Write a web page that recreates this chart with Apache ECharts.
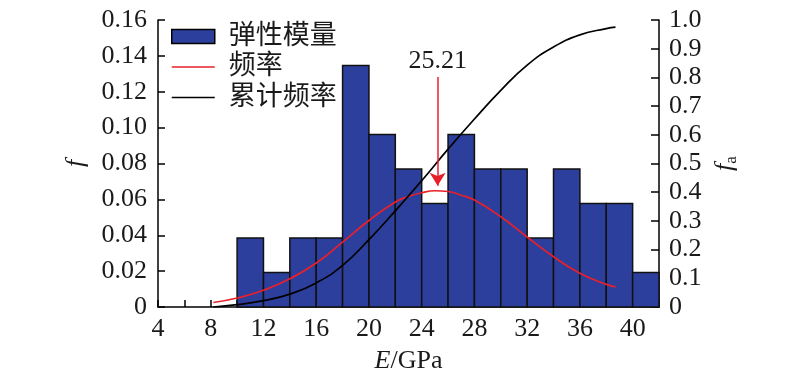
<!DOCTYPE html>
<html>
<head>
<meta charset="utf-8">
<script src="https://cdn.jsdelivr.net/npm/echarts@6/dist/echarts.min.js"></script>
<style>html,body{margin:0;padding:0;background:#fff}#c{width:800px;height:381px}</style>
</head>
<body>
<div id="c"></div>
<script>
// Histogram bins (start of each 2 GPa bin) and frequencies
const binStarts = [10, 12, 14, 16, 18, 20, 22, 24, 26, 28, 30, 32, 34, 36, 38, 40];
const binWidth = 2;
const freq = [0.0385, 0.0192, 0.0385, 0.0385, 0.1346, 0.0962, 0.0769, 0.0577, 0.0962, 0.0769, 0.0769, 0.0385, 0.0769, 0.0577, 0.0577, 0.0192];
// Fitted frequency curve
const redX = [8.2, 10, 12, 14, 16, 18, 20, 22, 23, 24, 25, 26, 27, 28, 30, 32, 34, 36, 38, 38.7];
const freqCurve = [0.0025, 0.0050, 0.0093, 0.0157, 0.0245, 0.0362, 0.0482, 0.0585, 0.0616, 0.0637, 0.0648, 0.0644, 0.0623, 0.0596, 0.0503, 0.0390, 0.0280, 0.0188, 0.0126, 0.0112];
// Cumulative frequency curve
const blackX = [8.2, 10, 12, 14, 16, 18, 20, 22, 24, 26, 28, 30, 32, 34, 36, 38, 38.7];
const cumCurve = [0.0, 0.008, 0.022, 0.045, 0.084, 0.145, 0.235, 0.335, 0.44, 0.55, 0.655, 0.755, 0.843, 0.906, 0.948, 0.970, 0.975];
// Annotation
const meanValue = 25.21;
const arrowFrom = 0.1282, arrowTo = 0.0676;
const seriesNames = ['弹性模量', '频率', '累计频率'];

const serif = "'Liberation Serif', 'Noto Sans CJK SC', serif";
const txt = '#1a1a1a';
const barColor = '#2d3f9d';
const lineIcon = 'path://M0,0 L0.01,0 L0,0.01 Z M0,6.2 L43,6.2 L43,7.8 L0,7.8 Z M43,14 L42.99,14 L43,13.99 Z';

const histData = binStarts.map((s, i) => [s, s + binWidth, freq[i]]);
const redData = redX.map((x, i) => [x, freqCurve[i]]);
const blackData = blackX.map((x, i) => [x, cumCurve[i]]);

const chart = echarts.init(document.getElementById('c'), null, {renderer: 'canvas'});
chart.setOption({
  animation: false,
  backgroundColor: '#fff',
  grid: {left: 158, right: 141, top: 20, bottom: 74, containLabel: false},
  legend: {
    orient: 'vertical', left: 171, top: 23, padding: 0, itemWidth: 43, itemHeight: 14, itemGap: 3.5,
    textStyle: {fontFamily: serif, fontSize: 27, color: txt, lineHeight: 26, padding: [0, 0, 0, 9]},
    data: [
      {name: seriesNames[0], icon: 'rect', itemStyle: {color: barColor, borderColor: '#000', borderWidth: 1.5}},
      {name: seriesNames[1], icon: lineIcon, itemStyle: {color: '#e8202a', borderWidth: 0}},
      {name: seriesNames[2], icon: lineIcon, itemStyle: {color: '#000', borderWidth: 0}}
    ]
  },
  xAxis: {
    type: 'value', min: 4, max: 42, interval: 2,
    name: '{i|E}{n|/GPa}', nameLocation: 'middle', nameGap: 41,
    nameTextStyle: {rich: {
      i: {fontFamily: serif, fontSize: 26, fontStyle: 'italic', color: txt},
      n: {fontFamily: serif, fontSize: 26, color: txt}}},
    axisLine: {lineStyle: {color: '#000', width: 1.5}},
    axisTick: {inside: true, length: 7, lineStyle: {color: '#000', width: 1.5}},
    axisLabel: {margin: 9, fontFamily: serif, fontSize: 26, color: txt,
      formatter: v => (v % 4 === 0 ? String(v) : '')},
    splitLine: {show: false}
  },
  yAxis: [
    {
      type: 'value', min: 0, max: 0.16, interval: 0.02, position: 'left',
      name: 'f', nameLocation: 'middle', nameGap: 69, nameRotate: 90,
      nameTextStyle: {fontFamily: serif, fontSize: 26, fontStyle: 'italic', color: txt},
      axisLine: {show: true, lineStyle: {color: '#000', width: 1.5}},
      axisTick: {show: true, inside: true, length: 7, lineStyle: {color: '#000', width: 1.5}},
      axisLabel: {margin: 11, fontFamily: serif, fontSize: 26, color: txt,
        formatter: v => (v === 0 ? '0' : v.toFixed(2))},
      splitLine: {show: false}
    },
    {
      type: 'value', min: 0, max: 1, interval: 0.1, position: 'right',
      name: '{i|f}{s|a}', nameLocation: 'middle', nameGap: 46, nameRotate: 90,
      nameTextStyle: {rich: {
        i: {fontFamily: serif, fontSize: 26, fontStyle: 'italic', color: txt},
        s: {fontFamily: serif, fontSize: 17, color: txt, padding: [12, 0, 0, 0]}
      }},
      axisLine: {show: true, lineStyle: {color: '#000', width: 1.5}},
      axisTick: {show: true, inside: true, length: 8, lineStyle: {color: '#000', width: 1.5}},
      axisLabel: {margin: 10, fontFamily: serif, fontSize: 26, color: txt,
        formatter: v => (v === 0 ? '0' : v.toFixed(1))},
      splitLine: {show: false}
    }
  ],
  series: [
    {
      name: seriesNames[0], type: 'custom', xAxisIndex: 0, yAxisIndex: 0,
      encode: {x: [0, 1], y: 2},
      itemStyle: {color: barColor, borderColor: '#000', borderWidth: 1.5},
      renderItem: (params, api) => {
        const p0 = api.coord([api.value(0), api.value(2)]);
        const p1 = api.coord([api.value(1), 0]);
        return {type: 'rect', shape: {x: p0[0], y: p0[1], width: p1[0] - p0[0], height: p1[1] - p0[1]},
          style: {fill: barColor, stroke: '#111', lineWidth: 1.5}};
      },
      data: histData, z: 1
    },
    {
      name: seriesNames[1], type: 'line', xAxisIndex: 0, yAxisIndex: 0,
      data: redData, smooth: 0.5, symbol: 'none', showSymbol: false,
      lineStyle: {color: '#e8202a', width: 1.7}, itemStyle: {color: '#e8202a'}, z: 3,
      markLine: {
        silent: true, symbol: ['none', 'arrow'], symbolSize: [12, 13], precision: 2,
        lineStyle: {color: '#e8202a', width: 1.5, type: 'solid'},
        label: {show: true, position: 'start', distance: 3, formatter: String(meanValue),
          fontFamily: serif, fontSize: 26, color: txt},
        data: [[{coord: [meanValue, arrowFrom]}, {coord: [meanValue, arrowTo]}]]
      }
    },
    {
      name: seriesNames[2], type: 'line', xAxisIndex: 0, yAxisIndex: 1,
      data: blackData, smooth: 0.5, symbol: 'none', showSymbol: false,
      lineStyle: {color: '#000', width: 1.7}, itemStyle: {color: '#000'}, z: 4
    }
  ]
});
</script>
</body>
</html>
